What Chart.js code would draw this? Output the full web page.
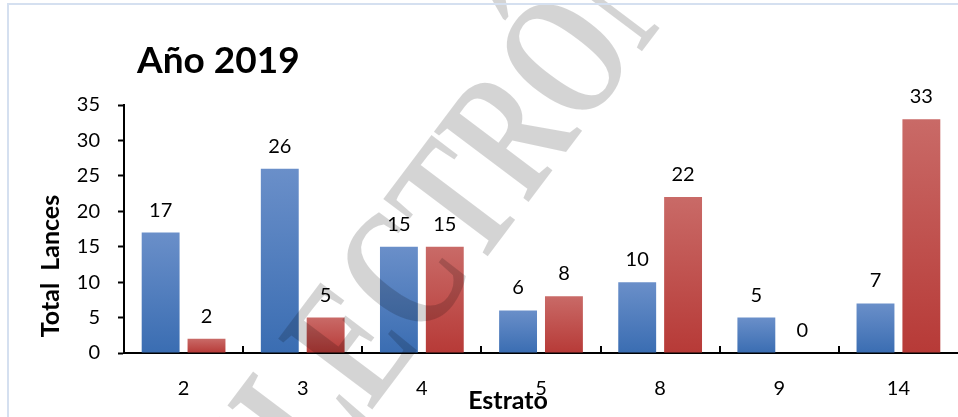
<!DOCTYPE html>
<html>
<head>
<meta charset="utf-8">
<script src="https://cdn.jsdelivr.net/npm/chart.js@4/dist/chart.umd.min.js"></script>
<style>
  html, body { margin: 0; padding: 0; background: #fff; overflow: hidden; }
  #wrap { position: relative; width: 958px; height: 417px; }
  #frame {
    position: absolute; left: 7px; top: 3px; width: 980px; height: 440px;
    border-top: 2px solid #d5e0f0; border-left: 2px solid #d5e0f0;
    pointer-events: none;
  }
</style>
</head>
<body>
<div id="wrap">
  <canvas id="estratoChart" width="958" height="417"></canvas>
  <div id="frame"></div>
</div>
<script>
// data
const estratos = ['2', '3', '4', '5', '8', '9', '14'];
const serieAzul = [17, 26, 15, 6, 10, 5, 7];
const serieRoja = [2, 5, 15, 8, 22, 0, 33];
const yTicks = [0, 5, 10, 15, 20, 25, 30, 35];

const fontName = 'Lato, "Open Sans", sans-serif';

// vertical gradient per bar, light on top, dark at the base
function barGradient(top, bottom) {
    return function(ctx) {
        const chart = ctx.chart;
        if (!chart.chartArea || ctx.type !== 'data') return bottom;
        const y = chart.scales.y;
        const y0 = y.getPixelForValue(ctx.raw);
        const y1 = y.getPixelForValue(0);
        if (y1 - y0 < 1) return bottom;
        const g = chart.ctx.createLinearGradient(0, y0, 0, y1);
        g.addColorStop(0, top);
        g.addColorStop(1, bottom);
        return g;
    };
}

// labels above bars
const valueLabels = {
    id: 'valueLabels',
    afterDatasetsDraw(chart) {
        const c = chart.ctx;
        c.save();
        c.font = '20px ' + fontName;
        c.fillStyle = '#000';
        c.textAlign = 'center';
        c.textBaseline = 'alphabetic';
        chart.data.datasets.forEach((ds, i) => {
            chart.getDatasetMeta(i).data.forEach((el, j) => {
                c.fillText(ds.data[j], el.x, el.y - 16);
            });
        });
        c.restore();
    }
};

// small tick marks between categories, pointing up from the x axis
const innerTicks = {
    id: 'innerTicks',
    afterDraw(chart) {
        const c = chart.ctx, x = chart.scales.x, area = chart.chartArea;
        c.save();
        c.strokeStyle = '#000';
        c.lineWidth = 2;
        for (let i = 1; i < estratos.length; i++) {
            const px = Math.round((x.getPixelForValue(i - 1) + x.getPixelForValue(i)) / 2);
            c.beginPath();
            c.moveTo(px, area.bottom);
            c.lineTo(px, area.bottom - 7);
            c.stroke();
        }
        c.restore();
    }
};

// chart title and axis titles, placed like the original
const titles = {
    id: 'titles',
    afterDraw(chart) {
        const c = chart.ctx, area = chart.chartArea;
        c.save();
        c.fillStyle = '#000';
        c.font = 'bold 37px ' + fontName;
        c.textAlign = 'left';
        c.textBaseline = 'alphabetic';
        c.fillText('Año 2019', area.left + 13, 73);

        c.font = 'bold 25px ' + fontName;
        c.textAlign = 'center';
        c.fillText('Estrato', 508, 409);

        c.translate(59, 266);
        c.rotate(-Math.PI / 2);
        c.fillText('Total  Lances', 0, 0);
        c.restore();
    }
};

// watermark across the picture (narrow, tall serif letters)
const watermark = {
    id: 'watermark',
    afterDraw(chart) {
        const c = chart.ctx;
        c.save();
        c.translate(517, 140);
        c.rotate(-53 * Math.PI / 180);
        c.scale(0.7, 1);
        c.font = 'bold 180px "Liberation Serif", "DejaVu Serif", serif';
        c.fillStyle = 'rgba(0, 0, 0, 0.17)';
        c.textAlign = 'center';
        c.textBaseline = 'middle';
        c.fillText('ELECTRÓNICO', 0, 0);
        c.restore();
    }
};

new Chart(document.getElementById('estratoChart'), {
    type: 'bar',
    data: {
        labels: estratos,
        datasets: [{
            label: 'Serie 1',
            data: serieAzul,
            backgroundColor: barGradient('rgb(106, 143, 201)', 'rgb(58, 109, 178)'),
            borderWidth: 0,
            categoryPercentage: 0.77,
            barPercentage: 0.826
        }, {
            label: 'Serie 2',
            data: serieRoja,
            backgroundColor: barGradient('rgb(201, 106, 103)', 'rgb(183, 58, 55)'),
            borderWidth: 0,
            categoryPercentage: 0.77,
            barPercentage: 0.826
        }]
    },
    options: {
        responsive: false,
        animation: false,
        devicePixelRatio: 1,
        layout: { padding: { top: 105, left: 0, right: 0, bottom: 0 } },
        scales: {
            x: {
                afterFit: (scale) => { scale.height = 64; },
                grid: { display: false },
                border: { display: true, color: '#000', width: 2 },
                ticks: {
                    color: '#000',
                    padding: 16,
                    font: { family: fontName, size: 20 }
                }
            },
            y: {
                min: 0,
                max: 35,
                afterFit: (scale) => { scale.width = 124; },
                afterBuildTicks: (scale) => { scale.ticks = yTicks.map(v => ({ value: v })); },
                grid: {
                    drawOnChartArea: false,
                    drawTicks: true,
                    tickLength: 6,
                    tickWidth: 2,
                    tickColor: '#000'
                },
                border: { display: true, color: '#000', width: 2 },
                ticks: {
                    color: '#000',
                    padding: 18,
                    font: { family: fontName, size: 20 }
                }
            }
        },
        plugins: {
            legend: { display: false },
            title: { display: false },
            tooltip: { enabled: false }
        }
    },
    plugins: [valueLabels, innerTicks, titles, watermark]
});
</script>
</body>
</html>
